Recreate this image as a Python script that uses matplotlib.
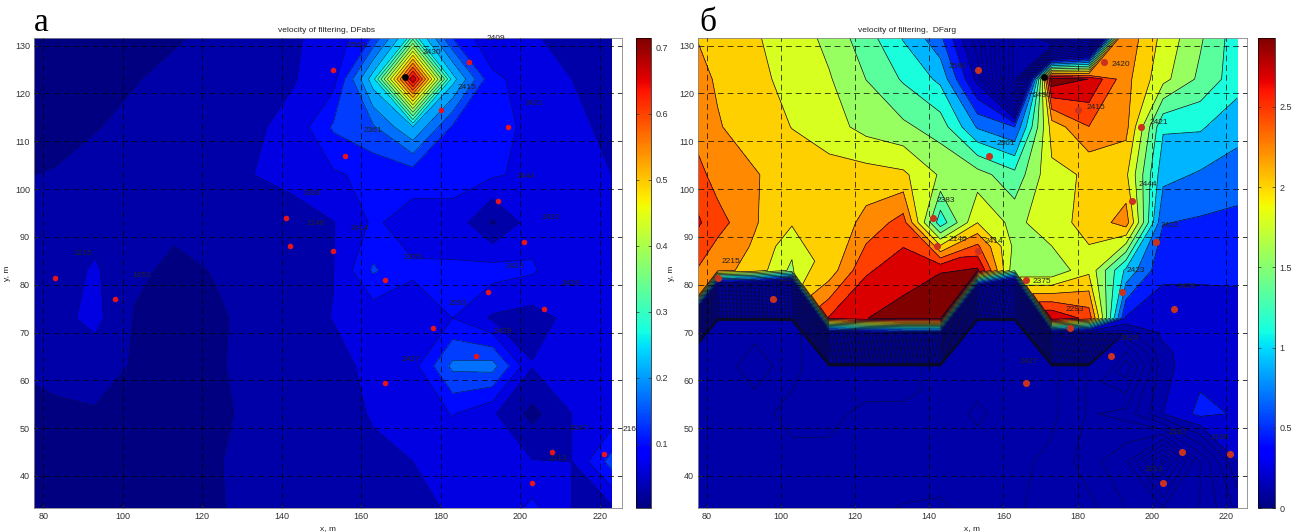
#!/usr/bin/env python3
"""
Velocity of filtering maps, DFabs and DFarg
"""

import numpy as np
import matplotlib
matplotlib.use('Agg')
import matplotlib.pyplot as plt
from matplotlib.cm import ScalarMappable
from matplotlib.colors import Normalize

W, H = 1298, 532

# =============================================================================
# Data
# =============================================================================
x_grid = [73, 83, 93, 103, 113, 123, 133, 143, 153, 163, 173, 183, 193, 203, 213, 223]

y_abs = [33, 43, 53, 63, 73, 83, 93, 103, 113, 123, 133]
abs_33 = [.04, .04, .042, .045, .045, .053, .06, .065, .072, .078, .085, .092, .095, .135, .09, .08]
abs_43 = [.04, .04, .042, .045, .045, .053, .062, .07, .078, .085, .09, .10, .10, .092, .09, .175]
abs_53 = [.05, .052, .052, .05, .04, .05, .06, .07, .08, .092, .10, .127, .095, .045, .09, .10]
abs_63 = [.056, .06, .07, .052, .04, .052, .062, .075, .08, .098, .112, .204, .21, .092, .10, .095]
abs_73 = [.065, .078, .10, .053, .05, .052, .06, .08, .091, .10, .105, .125, .085, .075, .10, .095]
abs_83 = [.062, .07, .095, .06, .05, .056, .07, .075, .089, .165, .13, .128, .14, .13, .095, .09]
abs_93 = [.06, .062, .075, .07, .06, .065, .09, .07, .089, .13, .11, .115, .05, .108, .105, .09]
abs_103 = [.054, .056, .062, .068, .07, .075, .09, .105, .12, .135, .14, .135, .13, .115, .10, .09]
abs_113 = [.05, .05, .054, .06, .065, .07, .085, .10, .165, .19, .265, .155, .14, .115, .10, .08]
abs_123 = [.045, .045, .05, .054, .06, .065, .075, .088, .11, .285, .72, .28, .13, .115, .09, .07]
abs_133 = [.04, .04, .045, .05, .052, .058, .07, .085, .105, .15, .30, .14, .105, .092, .075, .065]

# DFarg has a cliff along the trapezoid band, so its rows bend from column to column
y_r0 = [33] * 16
y_r1 = [43] * 16
y_r2 = [53] * 16
y_r3 = [58, 63, 63, 63, 58, 58, 58, 58, 63, 63, 58, 58, 63, 63, 63, 63]
y_r4 = [63, 72.5, 72.5, 72.5, 63, 63, 63, 63, 72.5, 72.5, 63, 63, 66, 66, 66, 66]
y_r5 = [63.5, 73, 73, 73, 63.5, 63.5, 63.5, 63.5, 73, 73, 63.5, 63.5, 70, 70, 70, 70]
y_r6 = [73, 83, 83, 83, 73, 73, 73, 73, 83, 83, 73, 73, 73, 73, 73, 73]
y_r7 = [83, 88, 88, 88, 83, 83, 83, 83, 88, 88, 83, 83, 83, 83, 83, 83]
y_r8 = [93] * 16
y_r9 = [103] * 16
y_r10 = [113] * 16
y_r11 = [123] * 16
y_r12 = [133] * 16

arg_r0 = [-.1, -.2, -.2, -.3, -.2, -.2, -.1, -.1, -.2, -.3, -.5, -.5, -.8, -1.0, -.8, -.3]
arg_r1 = [-.2, -.25, -.3, -.3, -.3, -.3, -.3, -.2, -.2, -.3, -.4, -.7, -1.0, -2.0, -.8, .1]
arg_r2 = [-.3, -.3, -.3, -.4, -.4, -.3, -.3, -.2, -.1, -.2, -.3, -.6, -.5, .1, .39, .3]
arg_r3 = [-.4, -.3, -.4, -.3, -.5, -.4, -.4, -.3, -.2, -.2, -.3, -.6, -1.2, .03, .25, .25]
arg_r4 = [-.4, -.3, -.3, -.3, -.5, -.4, -.4, -.3, -.3, -.3, -.3, -.6, -.8, .05, .25, .25]
arg_r5 = [-6, -6, -6, -6, -6, -6, -6, -6, -6, -6, -6, -6, -.2, .15, .22, .22]
arg_r6 = [2.2, 2.2, 2.05, 1.62, 2.6, 2.8, 2.9, 2.9, 2.85, 1.5, 2.8, 2.5, .3, .22, .22, .24]
arg_r7 = [2.5, 2.3, 2.1, 1.75, 2.0, 2.55, 2.7, 2.8, 2.4, 1.62, 1.5, 1.85, .95, .37, .37, .37]
arg_r8 = [2.75, 2.45, 2.15, 1.93, 1.95, 2.2, 2.45, 1.08, 1.9, 1.6, 1.85, 1.95, 2.25, .56, .52, .48]
arg_r9 = [2.6, 2.25, 2.15, 2.0, 2.0, 2.0, 1.95, 1.65, 1.55, 1.3, 1.85, 1.93, 1.95, .85, .75, .68]
arg_r10 = [2.4, 2.15, 2.0, 1.9, 1.78, 1.6, 1.5, 1.35, .75, .55, 2.0, 2.35, 2.2, 1.03, 1.03, .85]
arg_r11 = [2.3, 2.1, 1.95, 1.85, 1.7, 1.45, 1.2, .95, .02, -2, 2.95, 2.8, 2.2, 1.75, 1.4, 1.1]
arg_r12 = [2.2, 2.0, 1.92, 1.8, 1.6, 1.3, .95, .55, -.3, -2, -4, -3, 2.3, 1.85, 1.5, 1.1]

well_x = [153, 187, 180, 197, 156, 194.5, 141, 142, 153, 201, 166, 192, 83, 98, 206, 178, 189, 166, 208, 221, 203]
well_y = [125, 126.5, 116.5, 113, 107, 97.5, 94, 88, 87, 89, 81, 78.5, 81.5, 77, 75, 71, 65, 59.5, 45, 44.5, 38.5]
black_x = 171
black_y = 123.5

abs_labels = ['2560', '2430', '2409', '2415', '2421', '2361', '2444', '2383', '2146', '2414', '2422',
              '2215', '2375', '2423', '1852', '2428', '2293', '2429', '2427', '2167', '2213']
abs_label_x = [159, 177.7, 193.8, 186.6, 203.5, 163, 201.5, 147.5, 148.6, 159.8, 207.7,
               90, 173, 198.6, 104.8, 212.7, 184.3, 195.7, 172.5, 214.8, 209.5]
abs_label_y = [130, 128.6, 131.4, 121.3, 118, 112.3, 102.6, 99, 92.8, 91.8, 94,
               86.5, 85.7, 83.8, 81.9, 80.3, 76, 70.3, 64.4, 50, 43.6]

arg_labels = ['2560', '2420', '2430', '2415', '2421', '2361', '2383', '2444', '2146', '2414', '2422',
              '2215', '1852', '2375', '2423', '2428', '2293', '2429', '2427', '2167', '2166', '2213']
arg_label_x = [147.7, 191.6, 170.4, 185, 202, 160.6, 144.4, 198.9, 147.6, 157.3, 204.8,
               86.5, 102, 170.4, 195.7, 209.5, 179.3, 194, 166.7, 207, 218.4, 200.5]
arg_label_y = [125.7, 126, 119.5, 117, 114, 109.5, 97.7, 101, 89.5, 89, 92.4,
               84.9, 81, 80.6, 83, 79.6, 74.8, 68.7, 64, 49, 48, 41.3]

abs_cb_ticks = [0.1, 0.2, 0.3, 0.4, 0.5, 0.6, 0.7]
arg_cb_ticks = [0, 0.5, 1, 1.5, 2, 2.5]

plt.rcParams['font.family'] = ['Liberation Sans', 'DejaVu Sans']
fig = plt.figure(figsize=(W / 100, H / 100), dpi=100)


def px_axes(left, top, right, bottom):
    return fig.add_axes([left / W, 1 - bottom / H, (right - left) / W, (bottom - top) / H])


def draw_panel(box, cb_box, X, Y, z, levels, band_values, vmin, vmax, line_width, title, title_x, labels, lx, ly,
               cb_ticks, well_size, well_color):
    ax = px_axes(*box)
    norm = Normalize(vmin, vmax)
    colors = plt.cm.jet(norm(band_values))
    ax.contourf(X, Y, z, levels=levels, colors=colors)
    ax.contour(X, Y, z, levels=levels, colors='#0a0a28', linewidths=line_width)

    ax.set_xlim(77.7, 225.6)
    ax.set_ylim(33.3, 131.6)
    ax.set_xticks(range(80, 221, 20))
    ax.set_yticks(range(40, 131, 10))
    ax.grid(True, color='black', linestyle=(0, (6, 4)), linewidth=0.7, alpha=0.7)
    ax.set_axisbelow(False)
    ax.tick_params(labelsize=6.5, length=3, width=0.5, direction='in', right=True, colors='#333333', pad=3)
    for s in ax.spines.values():
        s.set_linewidth(0.6)
        s.set_color('#888888')

    for t, a, b in zip(labels, lx, ly):
        ax.text(a, b, t, fontsize=6, ha='center', va='center', color='#222222', clip_on=False)
    ax.scatter(well_x, well_y, s=well_size, color=well_color, zorder=5, linewidths=0)
    ax.scatter([black_x], [black_y], s=24, color='black', zorder=6, linewidths=0)

    ax.set_xlabel('x, m', fontsize=6, labelpad=3, color='#222222')
    ax.set_ylabel('y, m', fontsize=6, labelpad=3, color='#222222')
    fig.text(title_x / W, 1 - 30 / H, title, fontsize=6, ha='center', va='center', color='#222222')

    cax = px_axes(*cb_box)
    cb = fig.colorbar(ScalarMappable(norm=norm, cmap='jet'), cax=cax)
    cb.set_ticks(cb_ticks)
    cb.set_ticklabels([f'{t:g}' for t in cb_ticks])
    cb.ax.tick_params(labelsize=6.5, length=2.5, width=0.5, direction='in', left=True, colors='#333333', pad=3)
    cb.outline.set_linewidth(0.5)
    return ax


z_abs = np.array([abs_33, abs_43, abs_53, abs_63, abs_73, abs_83, abs_93, abs_103, abs_113, abs_123, abs_133])
X_abs, Y_abs = np.meshgrid(x_grid, y_abs)

z_arg = np.array([arg_r0, arg_r1, arg_r2, arg_r3, arg_r4, arg_r5, arg_r6, arg_r7, arg_r8, arg_r9, arg_r10,
                  arg_r11, arg_r12])
Y_arg = np.array([y_r0, y_r1, y_r2, y_r3, y_r4, y_r5, y_r6, y_r7, y_r8, y_r9, y_r10, y_r11, y_r12], dtype=float)
X_arg = np.tile(x_grid, (len(Y_arg), 1)).astype(float)

abs_levels = 0.02 + 0.035 * np.arange(0, 21)
# fill colour sits a little below the band's lower contour
abs_bands = abs_levels[:-1] - 0.025

arg_levels = 0.1 + 0.2255 * np.arange(-28, 14)
arg_bands = np.maximum((arg_levels[:-1] + arg_levels[1:]) / 2, 0.11)

ax1 = draw_panel((34, 38, 622, 508), (636, 38, 651, 508), X_abs, Y_abs, z_abs, abs_levels, abs_bands, 0.003, 0.715,
                 0.35, 'velocity of filtering, DFabs', 326, abs_labels, abs_label_x, abs_label_y,
                 abs_cb_ticks, 16, '#e8141c')
ax1.text(225.8, 49.7, '216', fontsize=6, ha='left', va='center', color='#222222', clip_on=False)

ax2 = draw_panel((698, 38, 1247, 508), (1258, 38, 1275, 508), X_arg, Y_arg, z_arg, arg_levels, arg_bands, 0.0, 2.93,
                 0.5, 'velocity of filtering,  DFarg', 907, arg_labels, arg_label_x, arg_label_y,
                 arg_cb_ticks, 26, '#c8321e')

fig.text(41 / W, 1 - 23 / H, 'а', family='Liberation Serif', fontsize=24, ha='center', va='center')
fig.text(708 / W, 1 - 23 / H, 'б', family='Liberation Serif', fontsize=24, ha='center', va='center')

plt.savefig('out.png', dpi=100)
plt.close()
